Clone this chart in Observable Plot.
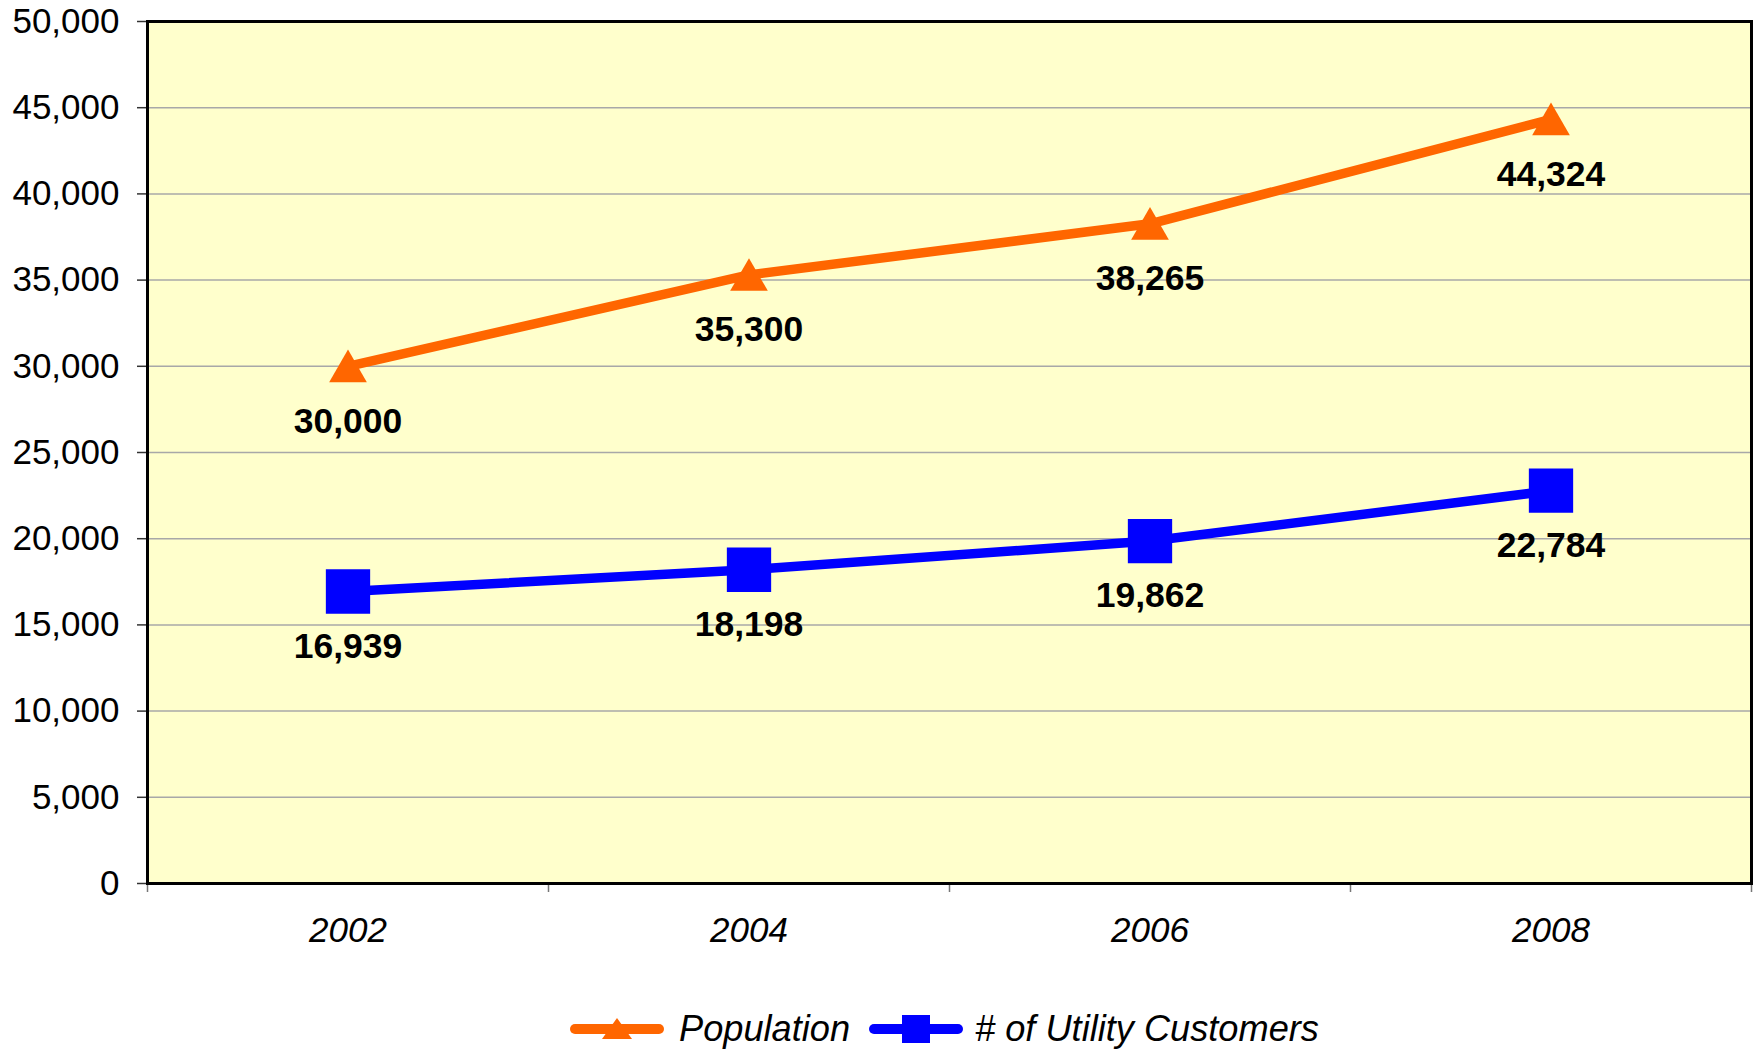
<!DOCTYPE html>
<html>
<head>
<meta charset="utf-8">
<script src="https://cdn.jsdelivr.net/npm/d3@7"></script>
<script src="https://cdn.jsdelivr.net/npm/@observablehq/plot@0.6"></script>
<style>
  html, body { margin: 0; padding: 0; background: #ffffff; }
  body { width: 1758px; height: 1051px; position: relative; overflow: hidden; font-family: "Liberation Sans", Arial, sans-serif; }
  #chart { position: absolute; left: 0; top: 0; }
  #legend { position: absolute; left: 569px; top: 1005px; height: 48px; display: flex; align-items: center; justify-content: flex-start; font-style: italic; font-size: 36.2px; color: #000; white-space: nowrap; }
  .item { display: flex; align-items: center; }
  .item svg { display: block; }
</style>
</head>
<body>
<div id="chart"></div>
<div id="legend"></div>
<script>
// ---- data ----
const years = [2002, 2004, 2006, 2008];
const population = [30000, 35300, 38265, 44324];
const customers = [16939, 18198, 19862, 22784];
const seriesNames = ["Population", "# of Utility Customers"];
const seriesColors = ["#FF6600", "#0000FF"];
const yTicks = [0, 5000, 10000, 15000, 20000, 25000, 30000, 35000, 40000, 45000, 50000];
const bandEdges = [2001, 2003, 2005, 2007, 2009];

const popRows = years.map((year, i) => ({year, value: population[i], series: seriesNames[0]}));
const custRows = years.map((year, i) => ({year, value: customers[i], series: seriesNames[1]}));
const rows = popRows.concat(custRows);
const fmt = d3.format(",");

const chart = Plot.plot({
  width: 1758,
  height: 975,
  marginTop: 21,
  marginBottom: 92,
  marginLeft: 147,
  marginRight: 7,
  x: {domain: [bandEdges[0], bandEdges[bandEdges.length - 1]], label: null},
  y: {domain: [yTicks[0], yTicks[yTicks.length - 1]], label: null},
  color: {domain: seriesNames, range: seriesColors},
  style: {fontFamily: "'Liberation Sans', Arial, sans-serif", background: "#ffffff", color: "#000000", overflow: "visible"},
  marks: [
    Plot.frame({fill: "#FFFFCC", stroke: null}),
    Plot.gridY(yTicks, {stroke: "#a8a8a8", strokeOpacity: 1, strokeWidth: 1.5}),
    Plot.axisY(yTicks, {tickSize: 10, tickPadding: 18, fontSize: 35, tickFormat: fmt, stroke: "#333", strokeWidth: 1.5}),
    Plot.axisX(bandEdges, {tickSize: 9, tickFormat: () => "", stroke: "#777", strokeWidth: 1.5}),
    Plot.axisX(years, {tickSize: 0, tickPadding: 34, fontSize: 35, fontStyle: "italic", tickFormat: d => String(d)}),
    Plot.line(rows, {x: "year", y: "value", z: "series", stroke: "series", strokeWidth: 9.5, strokeLinejoin: "round"}),
    Plot.dot(popRows, {x: "year", y: "value", symbol: "triangle", r: 14, fill: "series", stroke: null, dy: 5}),
    Plot.dot(custRows, {x: "year", y: "value", symbol: "square", r: 25, fill: "series", stroke: null}),
    Plot.text(rows, {x: "year", y: "value", text: d => fmt(d.value), dy: 55, fontSize: 35.5, fontWeight: "bold", fill: "#000"}),
    Plot.frame({stroke: "#000", strokeWidth: 3})
  ]
});
document.getElementById("chart").appendChild(chart);

// ---- legend ----
const legend = d3.select("#legend");
seriesNames.forEach((name, i) => {
  const item = legend.append("div").attr("class", "item").style("margin-left", i ? "18px" : "0px");
  const svg = item.append("svg").attr("width", 96).attr("height", 40);
  svg.append("line").attr("x1", 6).attr("x2", 90).attr("y1", 20).attr("y2", 20)
    .attr("stroke", seriesColors[i]).attr("stroke-width", 10).attr("stroke-linecap", "round");
  if (i === 0) {
    svg.append("path").attr("d", "M48,9 L63,30 L33,30 Z").attr("fill", seriesColors[i]);
  } else {
    svg.append("rect").attr("x", 34).attr("y", 6).attr("width", 28).attr("height", 28).attr("fill", seriesColors[i]);
  }
  item.append("span").style("margin-left", i ? "11px" : "14px").text(name);
});
</script>
</body>
</html>
